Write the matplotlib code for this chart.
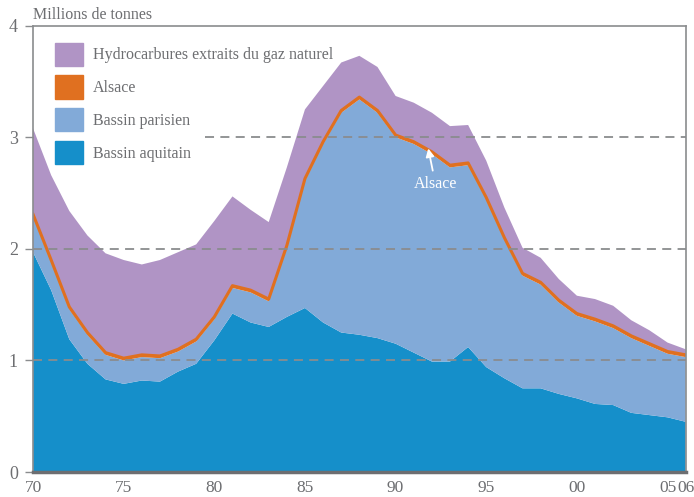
import matplotlib.pyplot as plt
from matplotlib.patches import Patch
import numpy as np

plt.rcParams['font.family'] = ['Liberation Serif', 'DejaVu Serif']

years = list(range(1970, 2007))
aquitain = [1.97, 1.63, 1.19, 0.97, 0.83, 0.79, 0.82, 0.81, 0.90, 0.97,
            1.18, 1.42, 1.34, 1.30, 1.39, 1.47, 1.34, 1.25, 1.23, 1.20,
            1.15, 1.07, 0.99, 0.99, 1.12, 0.94, 0.84, 0.75, 0.75, 0.70,
            0.66, 0.61, 0.60, 0.53, 0.51, 0.49, 0.45]
parisien = [0.32, 0.25, 0.27, 0.26, 0.22, 0.21, 0.21, 0.21, 0.18, 0.20,
            0.19, 0.23, 0.27, 0.23, 0.62, 1.14, 1.60, 1.97, 2.11, 2.02,
            1.85, 1.87, 1.86, 1.74, 1.63, 1.50, 1.24, 1.01, 0.93, 0.82,
            0.74, 0.74, 0.69, 0.67, 0.62, 0.57, 0.58]
alsace = [0.02, 0.02, 0.02, 0.02, 0.02, 0.02, 0.02, 0.02, 0.02, 0.02,
          0.02, 0.02, 0.02, 0.02, 0.02, 0.02, 0.02, 0.02, 0.02, 0.02,
          0.02, 0.02, 0.02, 0.02, 0.02, 0.02, 0.02, 0.02, 0.02, 0.02,
          0.02, 0.02, 0.02, 0.02, 0.02, 0.02, 0.02]
hydrocarbures = [0.77, 0.76, 0.86, 0.87, 0.89, 0.88, 0.81, 0.86, 0.87, 0.85,
                 0.86, 0.80, 0.72, 0.69, 0.70, 0.62, 0.50, 0.43, 0.37, 0.39,
                 0.35, 0.35, 0.35, 0.35, 0.34, 0.33, 0.27, 0.23, 0.22, 0.19,
                 0.16, 0.18, 0.18, 0.14, 0.12, 0.08, 0.05]

tick_years = [1970, 1975, 1980, 1985, 1990, 1995, 2000, 2005, 2006]
tick_labels = ['70', '75', '80', '85', '90', '95', '00', '05', '06']

c_aq = '#158fca'
c_par = '#82aad8'
c_als = '#e07020'
c_hyd = '#b094c5'
grey = '#6d6e71'

fig = plt.figure(figsize=(6.94, 4.97), dpi=100)
ax = fig.add_axes([0.0476, 0.0503, 0.9404, 0.8980])

ax.stackplot(years, aquitain, parisien, alsace, hydrocarbures,
             colors=[c_aq, c_par, c_als, c_hyd], linewidth=0)
orange_top = np.array(aquitain) + np.array(parisien) + np.array(alsace)
ax.plot(years, orange_top, color=c_als, lw=2.2, zorder=3)

# pointillés
for yv in [1, 2]:
    ax.axhline(yv, color='#8a8c8e', lw=1.3, ls=(0, (5, 3.5)), zorder=4)
ax.hlines(3, 1979.5, 2006, color='#8a8c8e', lw=1.3, ls=(0, (5, 3.5)), zorder=4)

ax.set_xlim(1970, 2006)
ax.set_ylim(0, 4)
ax.set_xticks(tick_years)
ax.set_xticklabels(tick_labels)
ax.set_yticks([0, 1, 2, 3, 4])
ax.tick_params(axis='x', length=0, pad=6, labelsize=12.5, colors=grey)
ax.tick_params(axis='y', length=6, width=1, color='#8a8c8e', pad=5,
               labelsize=13, labelcolor=grey)

for s in ['left', 'top', 'right']:
    ax.spines[s].set_color('#8a8c8e')
    ax.spines[s].set_linewidth(1.2)
ax.spines['bottom'].set_color('#6d6e71')
ax.spines['bottom'].set_linewidth(2.5)
for s in ax.spines.values():
    s.set_zorder(6)

fig.text(0.0476, 0.953, 'Millions de tonnes', fontsize=11.5, color=grey,
         ha='left', va='bottom')

ax.annotate('Alsace', xy=(1991.8, 2.9), xytext=(1992.2, 2.58),
            ha='center', va='center', color='white', fontsize=11.5,
            arrowprops=dict(arrowstyle='-|>', color='white', lw=1.3,
                            shrinkA=2, shrinkB=0, mutation_scale=12),
            zorder=7)

handles = [Patch(color=c_hyd), Patch(color=c_als), Patch(color=c_par), Patch(color=c_aq)]
labels = ['Hydrocarbures extraits du gaz naturel', 'Alsace',
          'Bassin parisien', 'Bassin aquitain']
leg = ax.legend(handles, labels, loc='upper left', bbox_to_anchor=(0.0337, 0.962),
                borderpad=0, borderaxespad=0, frameon=False, fontsize=11.5,
                handlelength=1.75, handleheight=1.88, handletextpad=0.62,
                labelspacing=0.58)
for t in leg.get_texts():
    t.set_color(grey)
leg.set_zorder(8)

fig.savefig('out.png', dpi=100)
